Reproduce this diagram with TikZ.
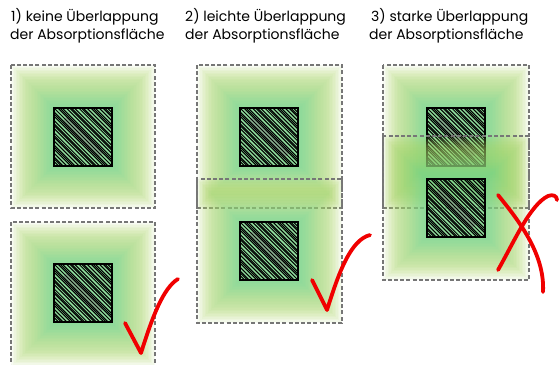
\documentclass[tikz,border=0pt]{standalone}
\usepackage{fontspec}
\setmainfont{Poppins}
\definecolor{yg}{RGB}{170,210,100}
\definecolor{gr}{RGB}{100,215,160}
\definecolor{bordergray}{RGB}{118,118,118}
\definecolor{markred}{RGB}{240,0,0}
\tikzset{
  boxborder/.style={draw=bordergray, line width=1.3pt, dash pattern=on 4pt off 2.2pt},
  sqborder/.style={draw=black, line width=1.6pt},
  hatchline/.style={draw=black, line width=1.05pt},
  redstroke/.style={draw=markred, line width=3.8pt, line cap=round, line join=round},
  caption/.style={anchor=base west, inner sep=0pt, font=\fontsize{14}{16}\selectfont}
}
\newcommand\absbox[4]{%
  \foreach \ii in {0,...,28}{%
    \pgfmathsetmacro\ddd{\ii*1.5}%
    \pgfmathtruncatemacro\ppp{min(100,max(0,(\ii-5)*6))}%
    \pgfmathsetmacro\opac{(\ii<10) ? 0.08 : 0.05}%
    \fill[gr!\ppp!yg, opacity=\opac] (#1+\ddd,#2+\ddd) rectangle (#3-\ddd,#4-\ddd);
  }%
  \draw[boxborder] (#1,#2) rectangle (#3,#4);
}
\newcommand\hatchsq[2]{%
  \begin{scope}
    \clip (#1,#2) rectangle ++(58,58);
    \draw[gray, opacity=0.5, line width=10pt, line cap=round] (#1+14,#2+14) -- (#1+44,#2+44);
    \foreach \kk in {-20,...,20}{%
      \pgfmathsetmacro\cc{\kk*3.0+0.9*sin(\kk*97)}%
      \draw[hatchline] (#1+\cc-5,#2-5) -- (#1+\cc+63,#2+63);
    }%
  \end{scope}
  \draw[sqborder] (#1,#2) rectangle ++(58,58);
}
\begin{document}
\begin{tikzpicture}[x=1pt,y=-1pt]
\useasboundingbox (0,0) rectangle (559,364);
% captions
\node[caption] (t1a) at (11,21) {1) keine Überlappung};
\node[caption] (t1b) at (10,39) {der Absorptionsfläche};
\node[caption] (t2a) at (185,21) {2) leichte Überlappung};
\node[caption] (t2b) at (185,39) {der Absorptionsfläche};
\node[caption] (t3a) at (371,21) {3) starke Überlappung};
\node[caption] (t3b) at (369,39) {der Absorptionsfläche};
% panel 1
\absbox{11}{65}{155}{208}
\hatchsq{54}{108}
\absbox{11}{222}{155}{366}
\hatchsq{54}{264}
% panel 2
\absbox{197}{65}{342}{208}
\hatchsq{240}{108}
\absbox{197}{179}{342}{323}
\hatchsq{240}{222}
% panel 3
\absbox{383}{65}{529}{208}
\hatchsq{427}{108}
\absbox{383}{136}{529}{280}
\hatchsq{427}{179}
% marks
\draw[redstroke] (125,323) -- (141,353) .. controls (152,318) and (163,288) .. (178,279);
\draw[redstroke] (312,280) -- (327,310) .. controls (338,275) and (350,240) .. (370,235);
\draw[redstroke] (498,195) .. controls (520,222) and (545,255) .. (543,292);
\draw[redstroke] (498,270) .. controls (515,240) and (530,205) .. (548,196) .. controls (553,194) and (557,196) .. (557,200);
\end{tikzpicture}
\end{document}
